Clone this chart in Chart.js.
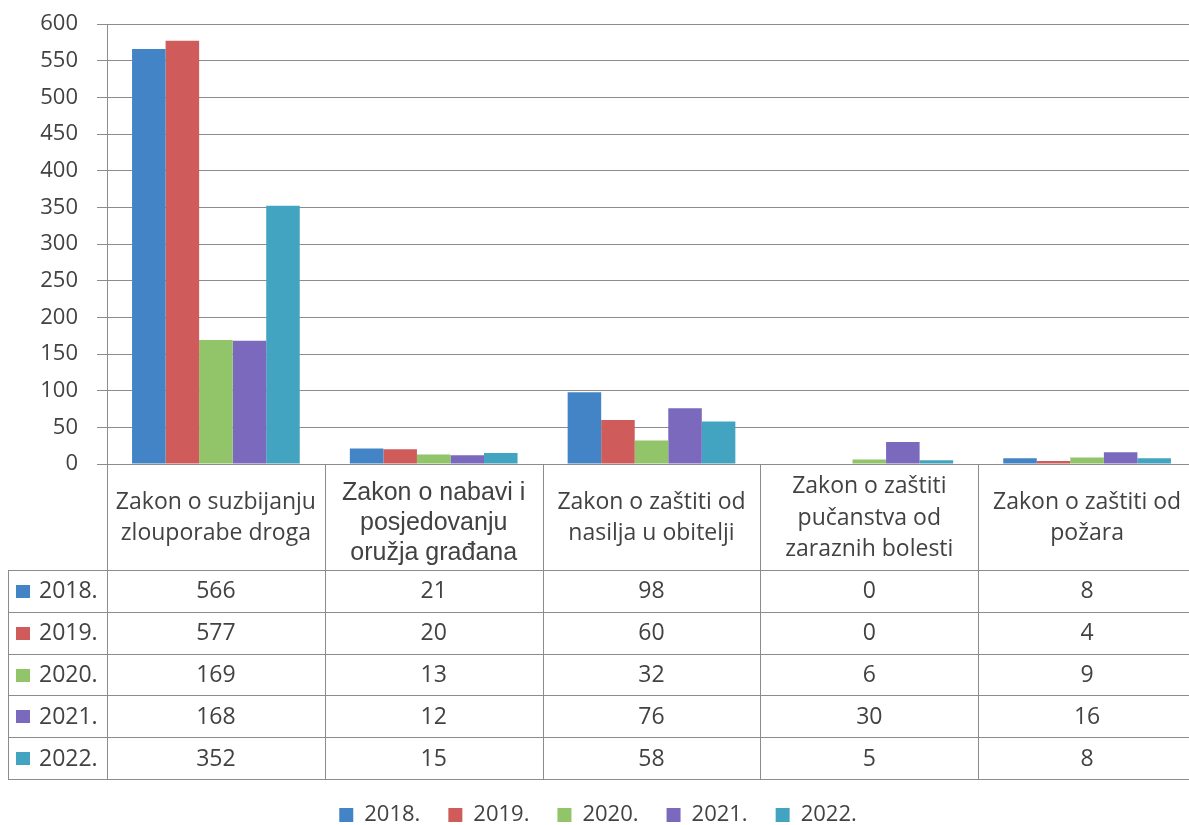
<!DOCTYPE html>
<html><head><meta charset="utf-8">
<script src="https://cdn.jsdelivr.net/npm/chart.js@4"></script>
<style>
html,body{margin:0;padding:0;background:#fff;overflow:hidden;width:1189px;height:825px}
#wrap{position:absolute;left:0;top:0;width:1200px;height:836px}
</style></head>
<body><div id="wrap"><canvas id="c" width="1200" height="836"></canvas></div>
<script>
const categories = [
  ["Zakon o suzbijanju","zlouporabe droga"],
  ["Zakon o nabavi i","posjedovanju","oružja građana"],
  ["Zakon o zaštiti od","nasilja u obitelji"],
  ["Zakon o zaštiti","pučanstva od","zaraznih bolesti"],
  ["Zakon o zaštiti od","požara"]
];
const seriesNames = ["2018.","2019.","2020.","2021.","2022."];
const values2018 = [566,21,98,0,8];
const values2019 = [577,20,60,0,4];
const values2020 = [169,13,32,6,9];
const values2021 = [168,12,76,30,16];
const values2022 = [352,15,58,5,8];
const yTickValues = [0,50,100,150,200,250,300,350,400,450,500,550,600];

const seriesValues = [values2018, values2019, values2020, values2021, values2022];
const colors = ["#4384c6","#cf5b5b","#92c46a","#7b69bd","#43a4c1"];
const FONT = "'Open Sans', 'Noto Sans', sans-serif";
const ALT_FONT = "'Liberation Sans', Arial, sans-serif";
const TEXT = "#424242";
const GRID = "#8c8c8c";
const PLOT_BOTTOM = 464;
const HEADER_H = 106;
const ROW_H = 41.8;
const TABLE_LEFT = 8;

const tablePlugin = {
  id: 'dataTable',
  afterDraw(chart) {
    const {ctx, chartArea, scales} = chart;
    const x = scales.x;
    const top = chartArea.bottom;
    const n = categories.length;
    const colW = (x.right - x.left) / n;
    const bottom = top + HEADER_H + ROW_H * seriesNames.length;
    ctx.save();
    ctx.strokeStyle = GRID;
    ctx.lineWidth = 1;
    ctx.beginPath();
    for (let i = 0; i <= n; i++) {
      const xx = Math.round(x.left + i * colW) + 0.5;
      ctx.moveTo(xx, top); ctx.lineTo(xx, bottom);
    }
    const lx = TABLE_LEFT + 0.5;
    ctx.moveTo(lx, top + HEADER_H); ctx.lineTo(lx, bottom);
    for (let r = 0; r <= seriesNames.length; r++) {
      const yy = Math.round(top + HEADER_H + r * ROW_H) + 0.5;
      ctx.moveTo(TABLE_LEFT, yy); ctx.lineTo(x.right, yy);
    }
    ctx.stroke();

    ctx.fillStyle = TEXT;
    ctx.textAlign = 'center';
    ctx.textBaseline = 'middle';
    categories.forEach((lines, i) => {
      const cx = x.left + (i + 0.5) * colW;
      const alt = (i === 1);
      ctx.font = alt ? ("25px " + ALT_FONT) : ("23px " + FONT);
      const lh = alt ? 30 : 31.5;
      const cy = top + HEADER_H / 2 + (alt ? 6 : 1);
      lines.forEach((t, k) => {
        ctx.fillText(t, cx, cy + (k - (lines.length - 1) / 2) * lh);
      });
    });
    ctx.font = "23px " + FONT;
    seriesNames.forEach((name, r) => {
      const cy = top + HEADER_H + (r + 0.5) * ROW_H;
      ctx.fillStyle = colors[r];
      ctx.fillRect(16, Math.round(cy - 6), 14, 13);
      ctx.fillStyle = TEXT;
      ctx.textAlign = 'left';
      ctx.fillText(name, 39, cy + 1);
      ctx.textAlign = 'center';
      seriesValues[r].forEach((v, i) => {
        ctx.fillText(String(v), x.left + (i + 0.5) * colW, cy + 1);
      });
    });
    ctx.restore();
  }
};

new Chart(document.getElementById('c'), {
  type: 'bar',
  data: {
    labels: categories.map(c => c.join(' ')),
    datasets: seriesNames.map((name, i) => ({
      label: name,
      data: seriesValues[i],
      backgroundColor: colors[i],
      borderWidth: 0,
      categoryPercentage: 0.77,
      barPercentage: 1.0
    }))
  },
  options: {
    responsive: false,
    animation: false,
    layout: { padding: { top: 24, right: 4, left: 0, bottom: 0 } },
    plugins: {
      tooltip: { enabled: false },
      legend: {
        position: 'bottom',
        labels: {
          boxWidth: 14, boxHeight: 14, padding: 28,
          color: TEXT,
          font: { family: FONT, size: 22 }
        }
      }
    },
    scales: {
      x: {
        grid: { display: false },
        border: { display: false },
        ticks: { display: false },
        afterFit(s) {
          const lh = s.chart.legend ? s.chart.legend.height : 0;
          s.height = s.chart.height - lh - PLOT_BOTTOM;
        }
      },
      y: {
        min: 0, max: 600,
        afterBuildTicks(s) { s.ticks = yTickValues.map(v => ({value: v})); },
        ticks: { color: TEXT, font: { family: FONT, size: 22 }, padding: 19 },
        grid: { color: GRID, tickLength: 10, drawTicks: true },
        border: { color: GRID },
        afterFit(s) { s.width = 107; s.paddingTop = 0; s.paddingBottom = 0; }
      }
    }
  },
  plugins: [tablePlugin]
});
</script>
</body></html>
